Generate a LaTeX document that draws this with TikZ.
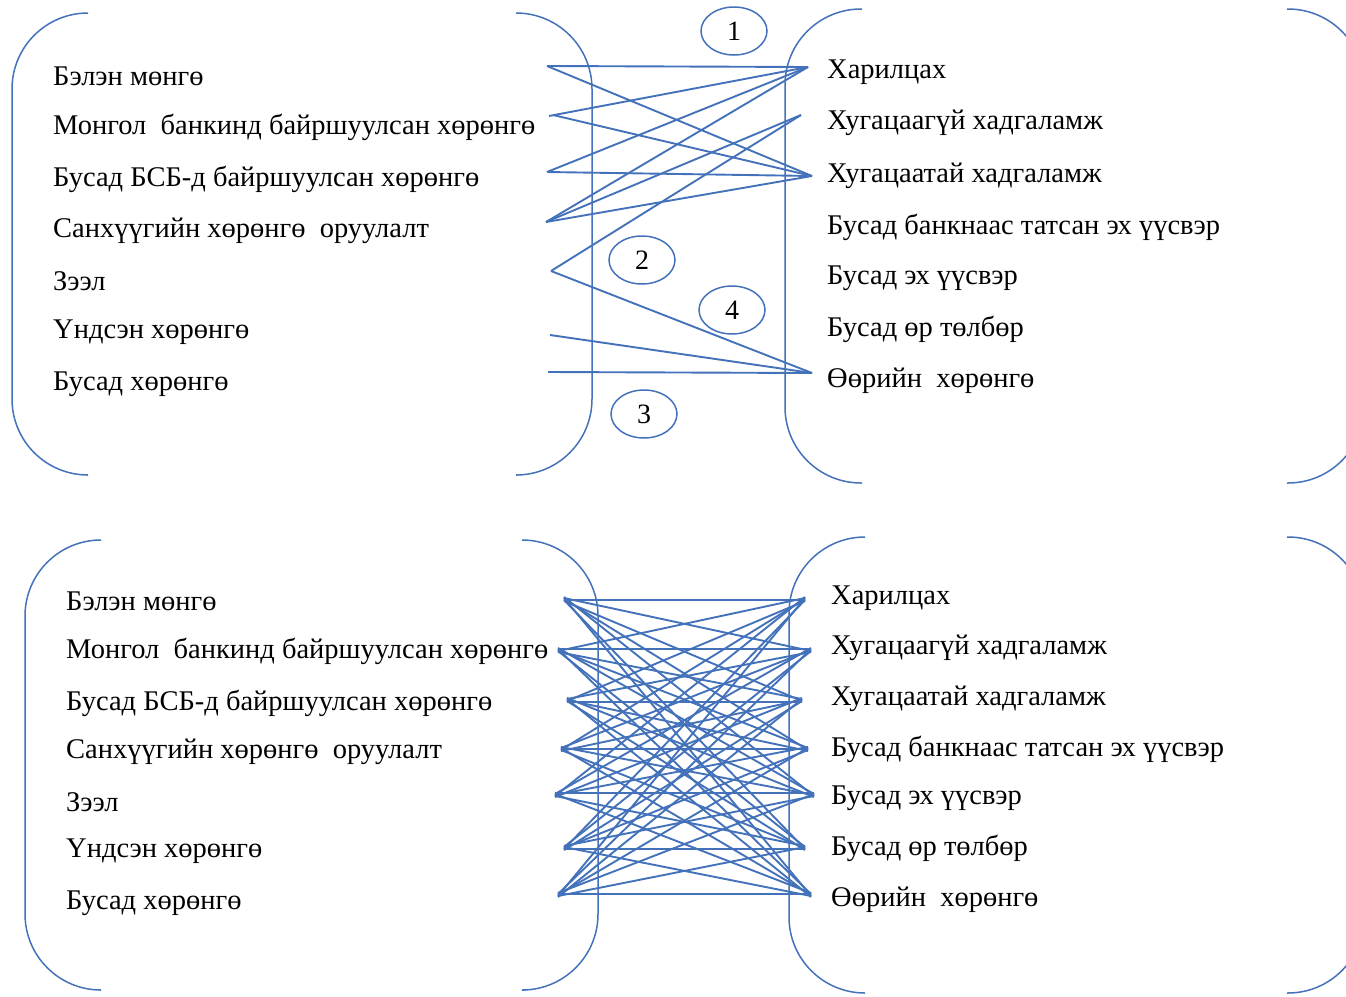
\documentclass[tikz,border=0pt]{standalone}
\usepackage{fontspec}
\setmainfont{Liberation Serif}
\usetikzlibrary{shapes.geometric}
\definecolor{lblue}{RGB}{68,114,186}
\begin{document}
\begin{tikzpicture}[x=1pt,y=-1pt,
  brk/.style={draw=lblue,line width=1.5pt,rounded corners=76pt},
  con/.style={draw=lblue,line width=1.9pt},
  lab/.style={anchor=west,inner sep=0pt,font=\fontsize{28.5}{32}\selectfont},
  num/.style={draw=lblue,line width=1.5pt,ellipse,minimum width=66pt,minimum height=48pt,inner sep=0pt,font=\fontsize{28}{32}\selectfont}]
\useasboundingbox (0,0) rectangle (1346,996);
\begin{scope}
\clip (0,0) rectangle (1346,996);
% top brackets
\draw[brk] (87,13) -- (12,13) -- (12,475) -- (87,475);
\draw[brk] (517,13) -- (592,13) -- (592,475) -- (517,475);
\draw[brk] (862,9) -- (785,9) -- (785,483) -- (862,483);
\draw[brk] (1287,9) -- (1364,9) -- (1364,483) -- (1287,483);
% bottom brackets
\draw[brk] (100,540) -- (25,540) -- (25,990) -- (100,990);
\draw[brk] (525,540) -- (598,540) -- (598,990) -- (525,990);
\draw[brk] (865,537) -- (789,537) -- (789,993) -- (865,993);
\draw[brk] (1287,537) -- (1364,537) -- (1364,993) -- (1287,993);
\end{scope}
% top labels
\node[lab] (a1) at (53,76) {Бэлэн мөнгө};
\node[lab] (a2) at (53,127) {Монгол\ \ банкинд байршуулсан хөрөнгө};
\node[lab] (a3) at (53,179) {Бусад БСБ-д байршуулсан хөрөнгө};
\node[lab] (a4) at (53,231) {Санхүүгийн хөрөнгө\ \ оруулалт};
\node[lab] (a5) at (53,281) {Зээл};
\node[lab] (a6) at (53,332) {Үндсэн хөрөнгө};
\node[lab] (a7) at (53,384) {Бусад хөрөнгө};
\node[lab] (b1) at (827,72) {Харилцах};
\node[lab] (b2) at (827,123) {Хугацаагүй хадгаламж};
\node[lab] (b3) at (827,176) {Хугацаатай хадгаламж};
\node[lab] (b4) at (827,227) {Бусад банкнаас татсан эх үүсвэр};
\node[lab] (b5) at (827,278) {Бусад эх үүсвэр};
\node[lab] (b6) at (827,329) {Бусад өр төлбөр};
\node[lab] (b7) at (827,381) {Өөрийн\ \ хөрөнгө};
% bottom labels
\node[lab] (c1) at (66,601) {Бэлэн мөнгө};
\node[lab] (c2) at (66,651) {Монгол\ \ банкинд байршуулсан хөрөнгө};
\node[lab] (c3) at (66,703) {Бусад БСБ-д байршуулсан хөрөнгө};
\node[lab] (c4) at (66,752) {Санхүүгийн хөрөнгө\ \ оруулалт};
\node[lab] (c5) at (66,802) {Зээл};
\node[lab] (c6) at (66,851) {Үндсэн хөрөнгө};
\node[lab] (c7) at (66,903) {Бусад хөрөнгө};
\node[lab] (d1) at (831,598) {Харилцах};
\node[lab] (d2) at (831,648) {Хугацаагүй хадгаламж};
\node[lab] (d3) at (831,699) {Хугацаатай хадгаламж};
\node[lab] (d4) at (831,749) {Бусад банкнаас татсан эх үүсвэр};
\node[lab] (d5) at (831,798) {Бусад эх үүсвэр};
\node[lab] (d6) at (831,848) {Бусад өр төлбөр};
\node[lab] (d7) at (831,900) {Өөрийн\ \ хөрөнгө};
% numbered ellipses
\node[num] (n1) at (734,31) {1};
\node[num] (n2) at (642,260) {2};
\node[num] (n4) at (732,310) {4};
\node[num] (n3) at (644,414) {3};
% top connector end points
\coordinate (l1) at (547,66);
\coordinate (l2) at (549,116);
\coordinate (l2b) at (553,115);
\coordinate (l3) at (547,172);
\coordinate (l4) at (546,222);
\coordinate (l5) at (551,271);
\coordinate (l6) at (550,335);
\coordinate (l7) at (548,372);
\coordinate (r1) at (808,67);
\coordinate (r2) at (801,115);
\coordinate (r3) at (812,176);
\coordinate (r7) at (812,373);
\draw[con] (l1) -- (r1);
\draw[con] (l1) -- (r3);
\draw[con] (l2) -- (r1);
\draw[con] (l2b) -- (r3);
\draw[con] (l3) -- (r1);
\draw[con] (l3) -- (r3);
\draw[con] (l4) -- (r1);
\draw[con] (l4) -- (r2);
\draw[con] (l4) -- (r3);
\draw[con] (l5) -- (r2);
\draw[con] (l5) -- (r7);
\draw[con] (l6) -- (r7);
\draw[con] (l7) -- (r7);
% bottom connectors: every asset to every liability
\foreach \i/\y in {1/599,2/650,3/700,4/749,5/795,6/848,7/895}{
  \foreach \j in {1,...,7}{
    \pgfmathsetmacro{\lx}{555+mod(\i*3+\j*5,5)*3}
    \pgfmathsetmacro{\ly}{\y+mod(\i*5+\j*3,5)-2}
    \coordinate (p\i\j) at (\lx,\ly);
  }
}
\foreach \j/\y in {1/599,2/650,3/700,4/749,5/795,6/848,7/895}{
  \foreach \i in {1,...,7}{
    \pgfmathsetmacro{\rx}{814-mod(\i*5+\j*3,5)*3}
    \pgfmathsetmacro{\ry}{\y+mod(\i*3+\j*5,5)-2}
    \coordinate (q\i\j) at (\rx,\ry);
  }
}
\foreach \i in {1,...,7}{
  \foreach \j in {1,...,7}{
    \draw[con] (p\i\j) -- (q\i\j);
  }
}
\end{tikzpicture}
\end{document}
